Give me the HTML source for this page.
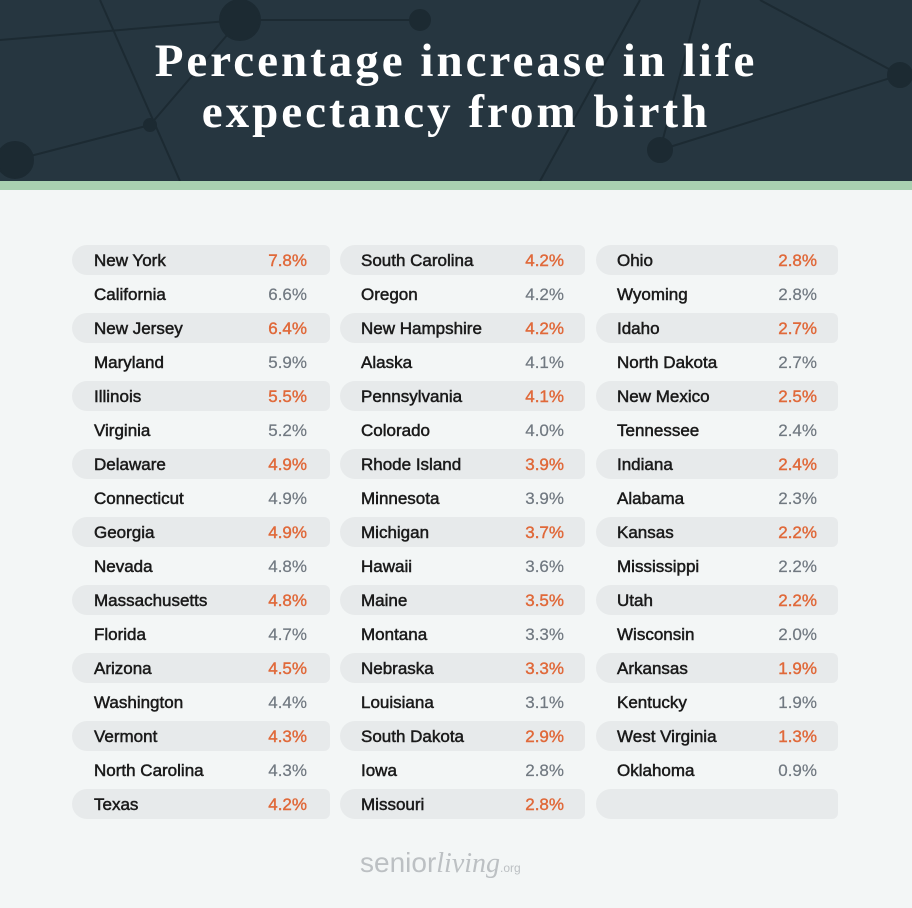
<!DOCTYPE html>
<html><head><style>
body{margin:0;width:912px;height:908px;background:#f3f6f6;font-family:"Liberation Sans",sans-serif;position:relative;overflow:hidden}
.hdr{position:absolute;left:0;top:0;width:912px;height:181px;background:#263640}
.grn{position:absolute;left:0;top:181px;width:912px;height:9px;background:#a9d0b1}
.t{position:absolute;left:0;width:912px;text-align:center;color:#fff;font:bold 47px "Liberation Serif",serif;letter-spacing:3px}
.row{position:absolute;height:30px;border-radius:15px 6px 6px 15px}
.sh{background:#e7eaeb}
.n{position:absolute;top:1px;line-height:30px;font-size:17px;color:#1a1a1a;-webkit-text-stroke:0.5px #1a1a1a}
.p{position:absolute;top:1px;line-height:30px;font-size:17px;text-align:right;color:#707880;-webkit-text-stroke:0.2px #707880}
.sh .p{color:#e0693a;-webkit-text-stroke:0.4px #e0693a}
.logo{position:absolute;left:360px;top:847px;font-size:28px;color:#bcc0c3}
</style></head><body>
<div class="hdr">
<svg width="912" height="181" style="position:absolute;left:0;top:0" stroke="#1c2a32" stroke-width="2" fill="#1c2a32">
<line x1="0" y1="40" x2="240" y2="20"/><line x1="240" y1="20" x2="420" y2="20"/><line x1="100" y1="0" x2="180" y2="181"/><line x1="15" y1="160" x2="150" y2="125"/><line x1="150" y1="125" x2="240" y2="20"/><line x1="660" y1="150" x2="900" y2="75"/><line x1="700" y1="0" x2="660" y2="150"/><line x1="760" y1="0" x2="900" y2="75"/><line x1="640" y1="0" x2="540" y2="181"/>
<circle cx="240" cy="20" r="20"/><circle cx="15" cy="160" r="18"/><circle cx="150" cy="125" r="6"/><circle cx="900" cy="75" r="12"/><circle cx="660" cy="150" r="12"/><circle cx="420" cy="20" r="10"/>
</svg>
<div class="t" style="top:34px">Percentage increase in life</div>
<div class="t" style="top:85px">expectancy from birth</div>
</div>
<div class="grn"></div>
<div id="c"></div>
<div class="logo">senior<i style="font-family:'Liberation Serif',serif">living</i><span style="font-size:12px">.org</span></div>
<script>
var cols=[[72,258,22,235],[340,245,21,224],[596,242,21,221]];
var d=[
[["New York","7.8%"],["California","6.6%"],["New Jersey","6.4%"],["Maryland","5.9%"],["Illinois","5.5%"],["Virginia","5.2%"],["Delaware","4.9%"],["Connecticut","4.9%"],["Georgia","4.9%"],["Nevada","4.8%"],["Massachusetts","4.8%"],["Florida","4.7%"],["Arizona","4.5%"],["Washington","4.4%"],["Vermont","4.3%"],["North Carolina","4.3%"],["Texas","4.2%"]],
[["South Carolina","4.2%"],["Oregon","4.2%"],["New Hampshire","4.2%"],["Alaska","4.1%"],["Pennsylvania","4.1%"],["Colorado","4.0%"],["Rhode Island","3.9%"],["Minnesota","3.9%"],["Michigan","3.7%"],["Hawaii","3.6%"],["Maine","3.5%"],["Montana","3.3%"],["Nebraska","3.3%"],["Louisiana","3.1%"],["South Dakota","2.9%"],["Iowa","2.8%"],["Missouri","2.8%"]],
[["Ohio","2.8%"],["Wyoming","2.8%"],["Idaho","2.7%"],["North Dakota","2.7%"],["New Mexico","2.5%"],["Tennessee","2.4%"],["Indiana","2.4%"],["Alabama","2.3%"],["Kansas","2.2%"],["Mississippi","2.2%"],["Utah","2.2%"],["Wisconsin","2.0%"],["Arkansas","1.9%"],["Kentucky","1.9%"],["West Virginia","1.3%"],["Oklahoma","0.9%"],["",""]]];
var h="";
for(var c=0;c<3;c++){var k=cols[c];for(var i=0;i<17;i++){var y=245+i*34;
h+='<div class="row'+(i%2==0?' sh':'')+'" style="left:'+k[0]+'px;top:'+y+'px;width:'+k[1]+'px"><span class="n" style="left:'+k[2]+'px">'+d[c][i][0]+'</span><span class="p" style="left:0;width:'+k[3]+'px">'+d[c][i][1]+'</span></div>';}}
document.getElementById("c").innerHTML=h;
</script>
</body></html>
